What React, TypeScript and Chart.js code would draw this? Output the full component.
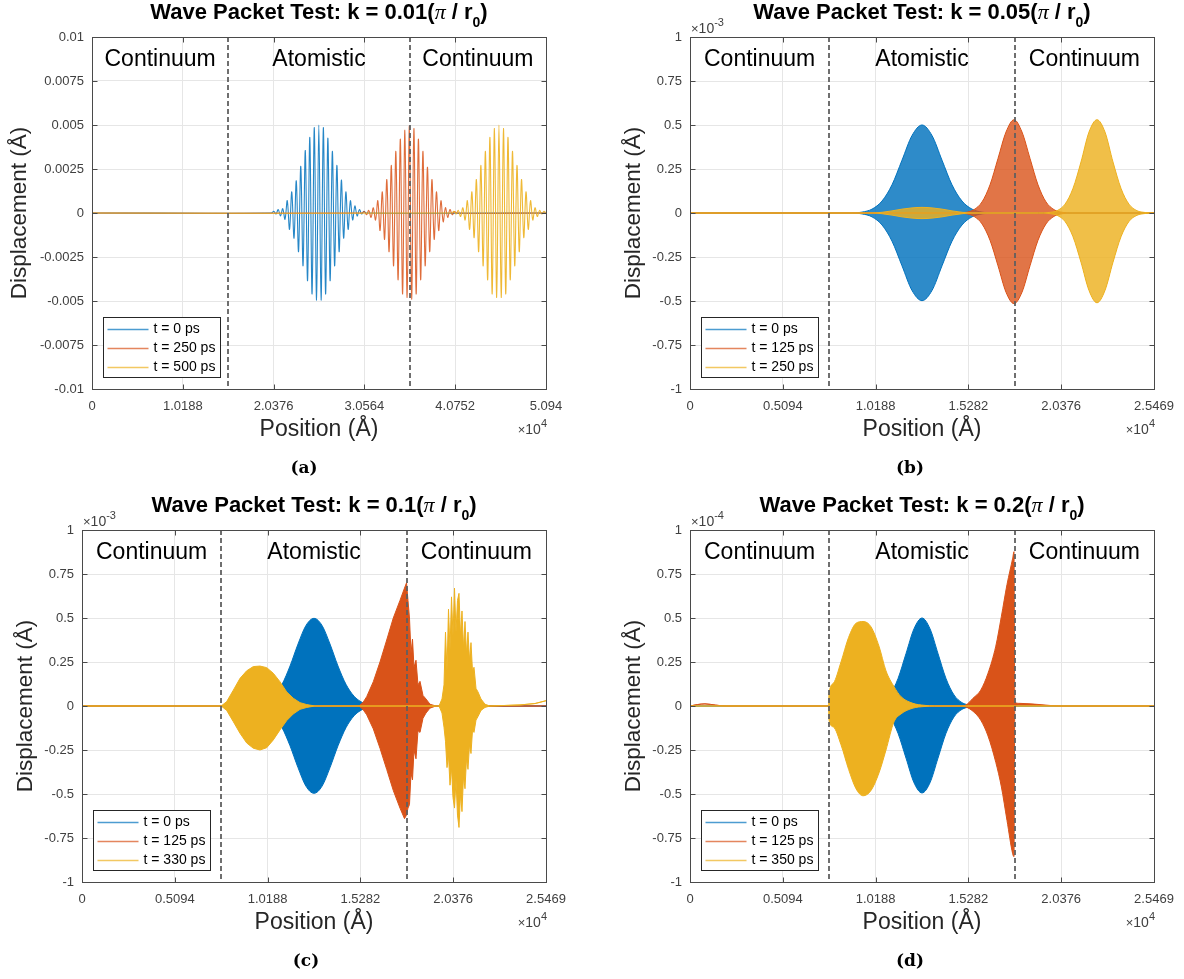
import React, { useEffect, useRef } from 'react';
import { Chart, registerables } from 'chart.js';

Chart.register(...registerables);

const FONT = '"Liberation Sans", Arial, Helvetica, sans-serif';
const SERIF = '"Liberation Serif", "Times New Roman", serif';
const CAPTION_FONT = '"DejaVu Serif", "Liberation Serif", serif';

const BLUE = '#0072BD';
const RED = '#D95319';
const YELLOW = '#EDB120';

// ---------------- Panel (a): k = 0.01 (values in Å) ----------------
const aXMax = 50940;
const aXTicks = [0, 10188, 20376, 30564, 40752, 50940];
const aXTickLabels = ['0', '1.0188', '2.0376', '3.0564', '4.0752', '5.094'];
const aYTicks = [-0.01, -0.0075, -0.005, -0.0025, 0, 0.0025, 0.005, 0.0075, 0.01];
const aYTickLabels = ['-0.01', '-0.0075', '-0.005', '-0.0025', '0', '0.0025', '0.005', '0.0075', '0.01'];
const aBoundaries = [15282, 35658];
const aLegend = ['t = 0 ps', 't = 250 ps', 't = 500 ps'];

const aBlueX = [0, 20137, 20390, 20643, 20896, 21149, 21402, 21655, 21908, 22161, 22414, 22667, 22920, 23173, 23426, 23679, 23932, 24185, 24438, 24691, 24944, 25197, 25450, 25703, 25956, 26209, 26462, 26715, 26968, 27221, 27474, 27727, 27980, 28233, 28486, 28739, 28992, 29245, 29498, 29751, 30004, 30257, 30510, 30763, 50940];
const aBlueY = [0, 0, 0.0001, -0.00006, 0.0002, -0.00017, 0.00025, -0.00036, 0.0007, -0.00093, 0.0012, -0.00143, 0.00183, -0.0022, 0.00265, -0.003, 0.00355, -0.00385, 0.0043, -0.0046, 0.00485, -0.00495, 0.005, -0.00495, 0.00485, -0.0046, 0.00425, -0.00385, 0.0035, -0.003, 0.0027, -0.0022, 0.00187, -0.00143, 0.0012, -0.00093, 0.0007, -0.0004, 0.0004, -0.00017, 0.0002, -0.00006, 0.0001, 0, 0];

const aRedX = [0, 30297, 30550, 30803, 31056, 31309, 31562, 31815, 32068, 32321, 32574, 32827, 33080, 33333, 33586, 33839, 34092, 34345, 34598, 34851, 35104, 35357, 35610, 35863, 36116, 36369, 36622, 36875, 37128, 37381, 37634, 37887, 38140, 38393, 38646, 38899, 39152, 39405, 39658, 39911, 40164, 40417, 40670, 40923, 50940];
const aRedY = [0, 0, 0.00008, -0.0001, 0.00015, -0.00025, 0.0003, -0.0004, 0.0007, -0.001, 0.0012, -0.0015, 0.0019, -0.0022, 0.0027, -0.003, 0.0035, -0.0038, 0.0042, -0.0046, 0.0047, -0.0048, 0.00495, -0.0049, 0.0048, -0.0046, 0.0042, -0.0038, 0.0035, -0.003, 0.0026, -0.0022, 0.0019, -0.0015, 0.0012, -0.001, 0.0007, -0.0005, 0.0003, -0.00025, 0.0002, -0.0001, 0.00008, 0, 0];

const aYellowX = [0, 40347, 40600, 40853, 41106, 41359, 41612, 41865, 42118, 42371, 42624, 42877, 43130, 43383, 43636, 43889, 44142, 44395, 44648, 44901, 45154, 45407, 45660, 45913, 46166, 46419, 46672, 46925, 47178, 47431, 47684, 47937, 48190, 48443, 48696, 48949, 49202, 49455, 49708, 49961, 50214, 50467, 50720, 50940];
const aYellowY = [0, 0, 0.0001, -0.00006, 0.00015, -0.0002, 0.0003, -0.0004, 0.0007, -0.00093, 0.0012, -0.0014, 0.0019, -0.0022, 0.0027, -0.003, 0.0035, -0.0038, 0.0043, -0.0046, 0.0048, -0.0048, 0.005, -0.0048, 0.0048, -0.0046, 0.0043, -0.0038, 0.0035, -0.003, 0.0027, -0.0022, 0.0019, -0.0014, 0.0012, -0.00093, 0.0007, -0.0004, 0.0003, -0.0002, 0.00015, -0.00006, 0.0001, 0];

// ---------------- Panels (b)-(d): shared axes ----------------
const halfXMax = 25469;
const halfXTicks = [0, 5094, 10188, 15282, 20376, 25469];
const halfXTickLabels = ['0', '0.5094', '1.0188', '1.5282', '2.0376', '2.5469'];
const unitYTicks = [-1, -0.75, -0.5, -0.25, 0, 0.25, 0.5, 0.75, 1];
const unitYTickLabels = ['-1', '-0.75', '-0.5', '-0.25', '0', '0.25', '0.5', '0.75', '1'];
const halfBoundaries = [7641, 17828];

// ---------------- Panel (b): k = 0.05 (envelopes, ×10^-3 Å) ----------------
const bLegend = ['t = 0 ps', 't = 125 ps', 't = 250 ps'];
const bBlueX = [0, 8900, 9442, 9990, 10539, 11088, 11637, 12186, 12735, 13284, 13833, 14382, 14931, 15480, 16028, 16600, 25469];
const bBlueUpper = [0, 0, 0.005, 0.022, 0.068, 0.16, 0.30, 0.44, 0.50, 0.44, 0.30, 0.16, 0.068, 0.022, 0.005, 0, 0];
const bBlueLower = [0, 0, -0.005, -0.022, -0.068, -0.16, -0.30, -0.44, -0.498, -0.44, -0.30, -0.16, -0.068, -0.022, -0.005, 0, 0];
const bRedX = [0, 14600, 15150, 15589, 16029, 16468, 16907, 17346, 17785, 18224, 18663, 19102, 19541, 19981, 20420, 21000, 25469];
const bRedUpper = [0, 0, 0.004, 0.019, 0.063, 0.16, 0.31, 0.46, 0.53, 0.46, 0.31, 0.16, 0.063, 0.019, 0.004, 0, 0];
const bRedLower = [0, 0, -0.004, -0.019, -0.062, -0.155, -0.30, -0.45, -0.515, -0.45, -0.30, -0.155, -0.062, -0.019, -0.004, 0, 0];
const bYellowX = [0, 9990, 10539, 11088, 11637, 12186, 12735, 13284, 13833, 14382, 14931, 15480, 19150, 19705, 20144, 20584, 21023, 21462, 21901, 22340, 22779, 23218, 23657, 24096, 24536, 24975, 25469];
const bYellowUpper = [0, 0, 0.004, 0.012, 0.022, 0.029, 0.032, 0.029, 0.022, 0.012, 0.004, 0, 0, 0.003, 0.013, 0.05, 0.14, 0.29, 0.46, 0.53, 0.46, 0.29, 0.14, 0.05, 0.013, 0.003, 0];
const bYellowLower = [0, 0, -0.004, -0.012, -0.022, -0.029, -0.032, -0.029, -0.022, -0.012, -0.004, 0, 0, -0.003, -0.013, -0.048, -0.135, -0.28, -0.44, -0.51, -0.44, -0.28, -0.135, -0.048, -0.013, -0.003, 0];

// ---------------- Panel (c): k = 0.1 (envelopes, ×10^-3 Å) ----------------
const cLegend = ['t = 0 ps', 't = 125 ps', 't = 330 ps'];
const cBlueX = [0, 9200, 9661, 10100, 10539, 10979, 11418, 11857, 12296, 12735, 13174, 13613, 14052, 14491, 14931, 15370, 15809, 16300, 25469];
const cBlueUpper = [0, 0, 0.007, 0.021, 0.056, 0.123, 0.227, 0.352, 0.458, 0.498, 0.458, 0.352, 0.227, 0.123, 0.056, 0.021, 0.007, 0, 0];
const cBlueLower = [0, 0, -0.007, -0.021, -0.056, -0.123, -0.226, -0.35, -0.456, -0.496, -0.456, -0.35, -0.226, -0.123, -0.056, -0.021, -0.007, 0, 0];
const cRedX = [0, 15205, 15425, 15627, 15990, 16357, 16725, 17087, 17455, 17702, 17812, 17894, 17976, 18059, 18141, 18223, 18333, 18443, 18553, 18717, 18882, 19102, 19431, 25469];
const cRedUpper = [0, 0, 0.02, 0.053, 0.138, 0.25, 0.375, 0.5, 0.6, 0.67, 0.70, 0.6, 0.5, 0.3, 0.38, 0.22, 0.26, 0.12, 0.14, 0.06, 0.04, 0.01, 0, 0];
const cRedLower = [0, 0, -0.02, -0.05, -0.13, -0.24, -0.36, -0.48, -0.58, -0.64, -0.62, -0.58, -0.56, -0.38, -0.42, -0.25, -0.3, -0.14, -0.15, -0.07, -0.04, -0.012, 0, 0];
const cYellowX = [0, 7640, 7942, 8306, 8673, 9040, 9403, 9770, 10138, 10500, 10868, 11236, 11598, 11966, 12334, 12790, 19596, 19760, 19870, 19952, 20035, 20117, 20200, 20282, 20364, 20447, 20529, 20611, 20693, 20776, 20858, 20940, 21023, 21105, 21187, 21270, 21352, 21434, 21517, 21627, 21736, 21901, 22121, 22395, 22944, 24042, 24865, 25469];
const cYellowUpper = [0, 0, 0.025, 0.09, 0.157, 0.20, 0.224, 0.227, 0.218, 0.186, 0.138, 0.08, 0.044, 0.019, 0.008, 0, 0, 0.04, 0.12, 0.42, 0.2, 0.55, 0.32, 0.62, 0.4, 0.67, 0.42, 0.6, 0.64, 0.4, 0.54, 0.33, 0.48, 0.3, 0.42, 0.26, 0.36, 0.2, 0.22, 0.1, 0.08, 0.04, 0.01, 0, 0.002, 0.006, 0.014, 0.03];
const cYellowLower = [0, 0, -0.025, -0.089, -0.155, -0.21, -0.24, -0.25, -0.237, -0.193, -0.136, -0.083, -0.045, -0.019, -0.008, 0, 0, -0.04, -0.12, -0.2, -0.35, -0.28, -0.45, -0.35, -0.52, -0.58, -0.42, -0.62, -0.69, -0.5, -0.6, -0.4, -0.47, -0.3, -0.36, -0.22, -0.27, -0.14, -0.15, -0.08, -0.06, -0.025, -0.008, 0, 0.002, 0.006, 0.014, 0.03];

// ---------------- Panel (d): k = 0.2 (envelopes, ×10^-4 Å) ----------------
const dLegend = ['t = 0 ps', 't = 125 ps', 't = 350 ps'];
const dBlueX = [0, 9500, 10100, 10539, 10979, 11418, 11857, 12296, 12735, 13174, 13613, 14052, 14491, 14931, 15370, 15900, 25469];
const dBlueUpper = [0, 0, 0.005, 0.019, 0.063, 0.156, 0.298, 0.439, 0.5, 0.439, 0.298, 0.156, 0.063, 0.019, 0.005, 0, 0];
const dBlueLower = [0, 0, -0.005, -0.019, -0.062, -0.155, -0.296, -0.436, -0.494, -0.436, -0.296, -0.155, -0.062, -0.019, -0.005, 0, 0];
const dRedX = [0, 400, 823, 1400, 2000, 14820, 15128, 15534, 15957, 16357, 16785, 17093, 17400, 17713, 17784, 17828, 18116, 19212, 20310, 25469];
const dRedUpper = [0, 0.008, 0.012, 0.005, 0, 0, 0.005, 0.044, 0.09, 0.186, 0.34, 0.51, 0.69, 0.84, 0.877, 0.02, 0.015, 0.008, 0, 0];
const dRedLower = [0, 0.008, 0.012, 0.005, 0, 0, -0.005, -0.03, -0.08, -0.17, -0.32, -0.46, -0.65, -0.84, -0.856, -0.01, 0.005, 0.003, 0, 0];
const dYellowX = [0, 7603, 7630, 7877, 8288, 8706, 9112, 9496, 9935, 10374, 10758, 11198, 11582, 12241, 12844, 13448, 25469];
const dYellowUpper = [0, 0, 0.07, 0.13, 0.25, 0.39, 0.47, 0.48, 0.45, 0.34, 0.20, 0.11, 0.053, 0.015, 0.004, 0, 0];
const dYellowLower = [0, 0, -0.08, -0.12, -0.22, -0.36, -0.47, -0.51, -0.48, -0.38, -0.25, -0.09, -0.045, -0.012, -0.003, 0, 0];

// ---------------- Panel setup ----------------
type Series = {
  x: number[];
  upper: number[];
  lower?: number[];
  color: string;
  fill?: string;
  smooth?: boolean;
  tension?: number;
  width?: number;
  order: number;
};

type Panel = {
  id: string;
  left: number;
  top: number;
  width: number;
  height: number;
  area: { l: number; t: number; r: number; b: number };
  xMax: number;
  yMin: number;
  yMax: number;
  xTicks: number[];
  xTickLabels: string[];
  yTicks: number[];
  yTickLabels: string[];
  boundaries: number[];
  k: string;
  legend: string[];
  series: Series[];
  yExp: string | null;
  caption: string;
  captionX: number;
  yLabelX: number;
};

const LEGEND_COLORS = [BLUE, RED, YELLOW];

const PANELS: Panel[] = [
  {
    id: 'a', left: 0, top: 0, width: 592, height: 490,
    area: { l: 92, t: 37, r: 546, b: 389 },
    xMax: aXMax, yMin: -0.01, yMax: 0.01,
    xTicks: aXTicks, xTickLabels: aXTickLabels, yTicks: aYTicks, yTickLabels: aYTickLabels,
    boundaries: aBoundaries, k: '0.01', legend: aLegend,
    series: [
      { x: aBlueX, upper: aBlueY, color: 'rgba(0,114,189,0.85)', tension: 0.35, width: 1.1, order: 3 },
      { x: aRedX, upper: aRedY, color: 'rgba(217,83,25,0.85)', tension: 0.35, width: 1.1, order: 2 },
      { x: aYellowX, upper: aYellowY, color: 'rgba(237,177,32,0.9)', tension: 0.35, width: 1.1, order: 1 },
    ],
    yExp: null, caption: '(a)', captionX: 304, yLabelX: 20,
  },
  {
    id: 'b', left: 592, top: 0, width: 592, height: 490,
    area: { l: 98, t: 37, r: 562, b: 389 },
    xMax: halfXMax, yMin: -1, yMax: 1,
    xTicks: halfXTicks, xTickLabels: halfXTickLabels, yTicks: unitYTicks, yTickLabels: unitYTickLabels,
    boundaries: halfBoundaries, k: '0.05', legend: bLegend,
    series: [
      { x: bBlueX, upper: bBlueUpper, lower: bBlueLower, color: BLUE, fill: 'rgba(0,114,189,0.82)', smooth: true, order: 3 },
      { x: bRedX, upper: bRedUpper, lower: bRedLower, color: RED, fill: 'rgba(217,83,25,0.8)', smooth: true, order: 2 },
      { x: bYellowX, upper: bYellowUpper, lower: bYellowLower, color: YELLOW, fill: 'rgba(237,177,32,0.82)', smooth: true, order: 1 },
    ],
    yExp: '-3', caption: '(b)', captionX: 318, yLabelX: 42,
  },
  {
    id: 'c', left: 0, top: 490, width: 592, height: 489,
    area: { l: 82, t: 40, r: 546, b: 392 },
    xMax: halfXMax, yMin: -1, yMax: 1,
    xTicks: halfXTicks, xTickLabels: halfXTickLabels, yTicks: unitYTicks, yTickLabels: unitYTickLabels,
    boundaries: halfBoundaries, k: '0.1', legend: cLegend,
    series: [
      { x: cBlueX, upper: cBlueUpper, lower: cBlueLower, color: BLUE, fill: BLUE, smooth: true, order: 3 },
      { x: cRedX, upper: cRedUpper, lower: cRedLower, color: RED, fill: RED, smooth: false, order: 2 },
      { x: cYellowX, upper: cYellowUpper, lower: cYellowLower, color: YELLOW, fill: YELLOW, smooth: false, order: 1 },
    ],
    yExp: '-3', caption: '(c)', captionX: 306, yLabelX: 26,
  },
  {
    id: 'd', left: 592, top: 490, width: 592, height: 489,
    area: { l: 98, t: 40, r: 562, b: 392 },
    xMax: halfXMax, yMin: -1, yMax: 1,
    xTicks: halfXTicks, xTickLabels: halfXTickLabels, yTicks: unitYTicks, yTickLabels: unitYTickLabels,
    boundaries: halfBoundaries, k: '0.2', legend: dLegend,
    series: [
      { x: dBlueX, upper: dBlueUpper, lower: dBlueLower, color: BLUE, fill: BLUE, smooth: true, order: 3 },
      { x: dRedX, upper: dRedUpper, lower: dRedLower, color: RED, fill: RED, smooth: true, order: 2 },
      { x: dYellowX, upper: dYellowUpper, lower: dYellowLower, color: YELLOW, fill: YELLOW, smooth: true, order: 1 },
    ],
    yExp: '-4', caption: '(d)', captionX: 318, yLabelX: 42,
  },
];

// ---------------- Drawing helpers ----------------
type Run = { t: string; f: string; dy?: number };

function drawRuns(ctx: CanvasRenderingContext2D, runs: Run[], x: number, y: number, align: 'left' | 'center' | 'right', color: string) {
  ctx.save();
  ctx.fillStyle = color;
  ctx.textBaseline = 'middle';
  ctx.textAlign = 'left';
  const widths = runs.map((r) => {
    ctx.font = r.f;
    return ctx.measureText(r.t).width;
  });
  const total = widths.reduce((s, w) => s + w, 0);
  let cx = align === 'left' ? x : align === 'center' ? x - total / 2 : x - total;
  runs.forEach((r, i) => {
    ctx.font = r.f;
    ctx.fillText(r.t, cx, y + (r.dy || 0));
    cx += widths[i];
  });
  ctx.restore();
}

function makeOverlay(p: Panel) {
  return {
    id: 'overlay_' + p.id,
    afterDatasetsDraw(chart: any) {
      const ctx: CanvasRenderingContext2D = chart.ctx;
      const xs = chart.scales.x;
      const { top, bottom } = chart.chartArea;
      ctx.save();
      ctx.strokeStyle = 'rgba(95,95,95,0.9)';
      ctx.lineWidth = 2;
      ctx.setLineDash([5, 3]);
      for (const b of p.boundaries) {
        const px = Math.round(xs.getPixelForValue(b));
        ctx.beginPath();
        ctx.moveTo(px, top);
        ctx.lineTo(px, bottom);
        ctx.stroke();
      }
      ctx.restore();
    },
    afterDraw(chart: any) {
      const ctx: CanvasRenderingContext2D = chart.ctx;
      const xs = chart.scales.x;
      const ys = chart.scales.y;
      const { left: l, right: r, top: t, bottom: b } = chart.chartArea;
      const L = Math.round(l) + 0.5;
      const R = Math.round(r) + 0.5;
      const T = Math.round(t) + 0.5;
      const B = Math.round(b) + 0.5;

      // frame + inward ticks
      ctx.save();
      ctx.strokeStyle = '#4a4a4a';
      ctx.lineWidth = 1;
      ctx.strokeRect(L, T, R - L, B - T);
      ctx.beginPath();
      for (const v of p.xTicks) {
        const px = Math.round(xs.getPixelForValue(v)) + 0.5;
        ctx.moveTo(px, B); ctx.lineTo(px, B - 5);
        ctx.moveTo(px, T); ctx.lineTo(px, T + 5);
      }
      for (const v of p.yTicks) {
        const py = Math.round(ys.getPixelForValue(v)) + 0.5;
        ctx.moveTo(L, py); ctx.lineTo(L + 5, py);
        ctx.moveTo(R, py); ctx.lineTo(R - 5, py);
      }
      ctx.stroke();
      ctx.restore();

      const cx = (l + r) / 2;
      // title
      drawRuns(ctx, [
        { t: `Wave Packet Test: k = ${p.k}(`, f: `bold 22px ${FONT}` },
        { t: 'π', f: `italic 22px ${SERIF}` },
        { t: ' / r', f: `bold 22px ${FONT}` },
        { t: '0', f: `bold 14px ${FONT}`, dy: 10 },
        { t: ')', f: `bold 22px ${FONT}` },
      ], cx, t - 24, 'center', '#000');

      // exponent at top-left
      if (p.yExp) {
        drawRuns(ctx, [
          { t: '×', f: `13px ${FONT}` },
          { t: '10', f: `14px ${FONT}` },
          { t: p.yExp, f: `11px ${FONT}`, dy: -6 },
        ], l + 1, t - 8, 'left', '#404040');
      }

      // region labels
      const edges = [0, p.boundaries[0], p.boundaries[1], p.xMax];
      const names = ['Continuum', 'Atomistic', 'Continuum'];
      for (let i = 0; i < 3; i++) {
        const mid = (xs.getPixelForValue(edges[i]) + xs.getPixelForValue(edges[i + 1])) / 2;
        drawRuns(ctx, [{ t: names[i], f: `23px ${FONT}` }], mid, t + 23, 'center', '#000');
      }

      // axis labels
      drawRuns(ctx, [{ t: 'Position (Å)', f: `23px ${FONT}` }], cx, b + 41, 'center', '#262626');
      drawRuns(ctx, [
        { t: '×', f: `13px ${FONT}` },
        { t: '10', f: `14px ${FONT}` },
        { t: '4', f: `11px ${FONT}`, dy: -6 },
      ], r + 1, b + 41, 'right', '#404040');
      ctx.save();
      ctx.translate(p.yLabelX, (t + b) / 2);
      ctx.rotate(-Math.PI / 2);
      drawRuns(ctx, [{ t: 'Displacement (Å)', f: `22.5px ${FONT}` }], 0, 0, 'center', '#262626');
      ctx.restore();

      // legend
      const bx = Math.round(l + 11) + 0.5;
      const bw = 117;
      const bh = 60;
      const by = Math.round(b - 12 - bh) + 0.5;
      ctx.save();
      ctx.fillStyle = '#fff';
      ctx.fillRect(bx, by, bw, bh);
      ctx.strokeStyle = '#262626';
      ctx.lineWidth = 1;
      ctx.strokeRect(bx, by, bw, bh);
      p.legend.forEach((label, i) => {
        const ry = by + 12 + i * 19;
        ctx.strokeStyle = LEGEND_COLORS[i];
        ctx.globalAlpha = 0.7;
        ctx.lineWidth = 1.5;
        ctx.beginPath();
        ctx.moveTo(bx + 4, ry);
        ctx.lineTo(bx + 45, ry);
        ctx.stroke();
        ctx.globalAlpha = 1;
        drawRuns(ctx, [{ t: label, f: `14px ${FONT}` }], bx + 50, ry, 'left', '#000');
      });
      ctx.restore();

      // caption
      drawRuns(ctx, [{ t: p.caption, f: `bold 17px ${CAPTION_FONT}` }], p.captionX, b + 80, 'center', '#000');
    },
  };
}

function buildDatasets(p: Panel) {
  const ds: any[] = [];
  for (const s of p.series) {
    const up = s.x.map((x, i) => ({ x, y: s.upper[i] }));
    const common = {
      borderColor: s.color,
      borderWidth: s.width || 1,
      pointRadius: 0,
      pointHoverRadius: 0,
      tension: s.tension || 0,
      cubicInterpolationMode: s.smooth ? 'monotone' : 'default',
      order: s.order,
    };
    if (s.lower) {
      const lo = s.x.map((x, i) => ({ x, y: (s.lower as number[])[i] }));
      ds.push({ ...common, data: up, fill: '+1', backgroundColor: s.fill });
      ds.push({ ...common, data: lo, fill: false });
    } else {
      ds.push({ ...common, data: up, fill: false });
    }
  }
  return ds;
}

function PanelChart({ p }: { p: Panel }) {
  const ref = useRef<HTMLCanvasElement>(null);
  useEffect(() => {
    const canvas = ref.current;
    if (!canvas) return;
    const a = p.area;
    const tickFont = { family: FONT, size: 13 };
    const chart = new Chart(canvas, {
      type: 'line',
      data: { datasets: buildDatasets(p) },
      options: {
        animation: false,
        responsive: false,
        events: [],
        layout: { padding: { left: 0, top: a.t, right: p.width - a.r, bottom: p.height - a.b - 30 } },
        plugins: { legend: { display: false }, tooltip: { enabled: false }, title: { display: false } },
        scales: {
          x: {
            type: 'linear',
            min: 0,
            max: p.xMax,
            afterBuildTicks: (s: any) => { s.ticks = p.xTicks.map((v) => ({ value: v })); },
            afterFit: (s: any) => { s.height = 30; },
            ticks: {
              autoSkip: false, maxRotation: 0, minRotation: 0, padding: 10,
              font: tickFont, color: '#404040',
              callback: (_v: any, i: number) => p.xTickLabels[i],
            },
            grid: { color: '#e6e6e6', drawTicks: false, lineWidth: 1 },
            border: { display: false },
          },
          y: {
            type: 'linear',
            min: p.yMin,
            max: p.yMax,
            afterBuildTicks: (s: any) => { s.ticks = p.yTicks.map((v) => ({ value: v })); },
            afterFit: (s: any) => { s.width = a.l; },
            ticks: {
              autoSkip: false, padding: 8,
              font: tickFont, color: '#404040',
              callback: (_v: any, i: number) => p.yTickLabels[i],
            },
            grid: { color: '#e6e6e6', drawTicks: false, lineWidth: 1 },
            border: { display: false },
          },
        },
      } as any,
      plugins: [makeOverlay(p)],
    });
    return () => chart.destroy();
  }, [p]);
  return (
    <canvas
      ref={ref}
      width={p.width}
      height={p.height}
      style={{ position: 'absolute', left: p.left, top: p.top, width: p.width, height: p.height }}
    />
  );
}

export default function App() {
  return (
    <div style={{ position: 'absolute', left: 0, top: 0, width: 1184, height: 979, background: '#fff', overflow: 'hidden' }}>
      {PANELS.map((p) => (
        <PanelChart key={p.id} p={p} />
      ))}
    </div>
  );
}
